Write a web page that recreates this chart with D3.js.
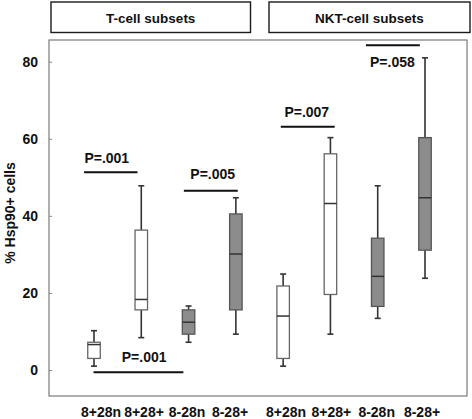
<!DOCTYPE html>
<html><head><meta charset="utf-8">
<script src="https://cdn.jsdelivr.net/npm/d3@7"></script>
<style>
html,body{margin:0;padding:0;background:#fff;}
svg{display:block;font-family:"Liberation Sans",Arial,sans-serif;font-weight:bold;}
</style></head>
<body>
<svg id="c" width="472" height="419"></svg>
<script>
// ---- data ----
const categories = ["8+28n","8+28+","8-28n","8-28+","8+28n","8+28+","8-28n","8-28+"];
const groupOf    = ["T","T","T","T","NKT","NKT","NKT","NKT"];
const filled     = [false,false,true,true,false,false,true,true];
const whiskerMin = [1.0, 8.4, 7.2, 9.3, 1.0, 9.3, 13.4, 23.8];
const q1         = [3.0, 15.6, 9.3, 15.6, 3.0, 19.6, 16.5, 31.1];
const median     = [6.6, 18.3, 12.4, 30.1, 14.0, 43.2, 24.3, 44.7];
const q3         = [7.2, 36.3, 15.6, 40.5, 21.8, 56.1, 34.2, 60.3];
const whiskerMax = [10.2, 47.8, 16.6, 44.7, 24.9, 60.3, 47.8, 81.0];
const yTicks     = [0, 20, 40, 60, 80];
const panelTitles = ["T-cell subsets","NKT-cell subsets"];
// significance annotations: from/to in category-index units, y in data units
const sigLabels = ["P=.001","P=.005","P=.001","P=.007","P=.058"];
const sigFrom   = [-0.21, 1.90, -0.01, 3.95, 5.75];
const sigTo     = [0.92, 3.04, 1.89, 5.09, 6.89];
const sigLineY  = [51.3, 46.5, -0.6, 63.1, 84.3];
const sigTextX  = [0.27, 2.51, 1.06, 4.50, 6.31];
const sigTextY  = [54.9, 50.9, 3.45, 66.8, 79.8];

// ---- layout ----
const svg = d3.select("#c");
const plot = {left:49, right:467, top:40, bottom:396};
const y = d3.scaleLinear().domain([0,80]).range([370, 61.7]);
const xi = d3.scaleLinear().domain([0,7]).range([94, 425]);
const x = d3.scalePoint().domain(d3.range(categories.length)).range([94, 425]);
const boxW = 12.5, capW = 6;

// panel header boxes
const headers = [{t:panelTitles[0], x0:51, x1:250.5},{t:panelTitles[1], x0:269, x1:470}];
svg.selectAll("rect.hdr").data(headers).join("rect")
  .attr("class","hdr")
  .attr("x",d=>d.x0).attr("y",2).attr("width",d=>d.x1-d.x0).attr("height",30.5)
  .attr("fill","#fff").attr("stroke","#1a1a1a").attr("stroke-width",1.4);
svg.selectAll("text.hdr").data(headers).join("text")
  .attr("class","hdr")
  .attr("x",d=>(d.x0+d.x1)/2).attr("y",18).attr("dy","0.35em")
  .attr("text-anchor","middle").attr("font-size",13.5).attr("fill","#111")
  .text(d=>d.t);

// plot frame
svg.append("rect")
  .attr("x",plot.left).attr("y",plot.top)
  .attr("width",plot.right-plot.left).attr("height",plot.bottom-plot.top)
  .attr("fill","none").attr("stroke","#7a7a7a").attr("stroke-width",1.2);

// y axis
const yAxis = d3.axisLeft(y).tickValues(yTicks).tickSizeInner(-3).tickSizeOuter(0).tickPadding(11);
const gy = svg.append("g").attr("transform",`translate(${plot.left},0)`).call(yAxis);
gy.select(".domain").remove();
gy.selectAll(".tick line").attr("stroke","#888");
gy.selectAll(".tick text").attr("font-size",14).attr("font-family","Liberation Sans, Arial, sans-serif")
  .attr("font-weight","bold").attr("fill","#111");

// y title
svg.append("text")
  .attr("transform","translate(10,213) rotate(-90)")
  .attr("text-anchor","middle").attr("dy","0.35em")
  .attr("font-size",14).attr("fill","#111")
  .text("% Hsp90+ cells");

// x labels
const xLabelPos = d3.scalePoint().domain(d3.range(4)).range([101,230]);
const xLabelPos2 = d3.scalePoint().domain(d3.range(4)).range([286,422]);
svg.selectAll("text.xl").data(categories).join("text")
  .attr("class","xl")
  .attr("x",(d,i)=> i<4 ? xLabelPos(i) : xLabelPos2(i-4))
  .attr("y",412).attr("dy","0.35em")
  .attr("text-anchor","middle").attr("font-size",14).attr("fill","#111")
  .text(d=>d);

// boxes
const boxes = categories.map((c,i)=>({i, min:whiskerMin[i], q1:q1[i], med:median[i], q3:q3[i], max:whiskerMax[i], fill:filled[i]}));
const g = svg.selectAll("g.box").data(boxes).join("g").attr("class","box");
const wColor = "#333";
// whiskers
g.append("line").attr("x1",d=>x(d.i)).attr("x2",d=>x(d.i))
  .attr("y1",d=>y(d.max)).attr("y2",d=>y(d.q3)).attr("stroke",wColor).attr("stroke-width",1.6);
g.append("line").attr("x1",d=>x(d.i)).attr("x2",d=>x(d.i))
  .attr("y1",d=>y(d.q1)).attr("y2",d=>y(d.min)).attr("stroke",wColor).attr("stroke-width",1.6);
g.append("line").attr("x1",d=>x(d.i)-capW/2).attr("x2",d=>x(d.i)+capW/2)
  .attr("y1",d=>y(d.max)).attr("y2",d=>y(d.max)).attr("stroke",wColor).attr("stroke-width",1.6);
g.append("line").attr("x1",d=>x(d.i)-capW/2).attr("x2",d=>x(d.i)+capW/2)
  .attr("y1",d=>y(d.min)).attr("y2",d=>y(d.min)).attr("stroke",wColor).attr("stroke-width",1.6);
// box
g.append("rect").attr("x",d=>x(d.i)-boxW/2).attr("width",boxW)
  .attr("y",d=>y(d.q3)).attr("height",d=>y(d.q1)-y(d.q3))
  .attr("fill",d=>d.fill?"#8c8c8c":"#fff")
  .attr("stroke",d=>d.fill?"#555":"#666").attr("stroke-width",1.3);
// median
g.append("line").attr("x1",d=>x(d.i)-boxW/2).attr("x2",d=>x(d.i)+boxW/2)
  .attr("y1",d=>y(d.med)).attr("y2",d=>y(d.med)).attr("stroke","#333").attr("stroke-width",1.5);

// significance annotations
const sig = sigLabels.map((t,k)=>({t, x0:sigFrom[k], x1:sigTo[k], ly:sigLineY[k], tx:sigTextX[k], ty:sigTextY[k]}));
svg.selectAll("line.sig").data(sig).join("line").attr("class","sig")
  .attr("x1",d=>xi(d.x0)).attr("x2",d=>xi(d.x1))
  .attr("y1",d=>y(d.ly)).attr("y2",d=>y(d.ly))
  .attr("stroke","#111").attr("stroke-width",2);
svg.selectAll("text.sig").data(sig).join("text").attr("class","sig")
  .attr("x",d=>xi(d.tx)).attr("y",d=>y(d.ty)).attr("dy","0.35em")
  .attr("text-anchor","middle").attr("font-size",14).attr("fill","#111")
  .text(d=>d.t);
</script>
</body></html>
